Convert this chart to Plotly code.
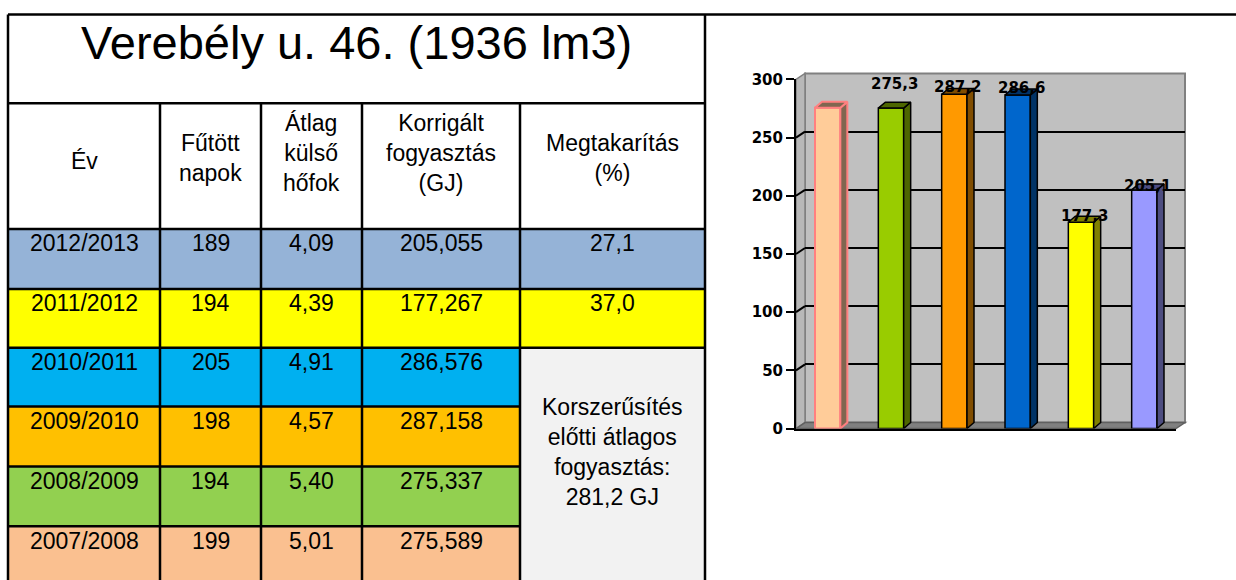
import plotly.graph_objects as go

W = 1236

# ---------------- data ----------------
title_text = "Verebély u. 46. (1936 lm3)"
header_labels = ["Év", "Fűtött<br>napok", "Átlag<br>külső<br>hőfok",
                 "Korrigált<br>fogyasztás<br>(GJ)", "Megtakarítás<br>(%)"]
years = ["2012/2013", "2011/2012", "2010/2011", "2009/2010", "2008/2009", "2007/2008"]
heated_days = [189, 194, 205, 198, 194, 199]
avg_temps = [4.09, 4.39, 4.91, 4.57, 5.40, 5.01]
corrected_gj = [205.055, 177.267, 286.576, 287.158, 275.337, 275.589]
savings_pct = [27.1, 37.0]
baseline_note = ["Korszerűsítés", "előtti átlagos", "fogyasztás:", "281,2 GJ"]

chart_seasons = ["2007/2008", "2008/2009", "2009/2010", "2010/2011", "2011/2012", "2012/2013"]
chart_values = [275.589, 275.337, 287.158, 286.576, 177.267, 205.055]
chart_label_shown = [False, True, True, True, True, True]
y_tick_values = [0, 50, 100, 150, 200, 250, 300]

# ---------------- styles / geometry ----------------
FONT = "Liberation Sans, Arial, sans-serif"
BFONT = "DejaVu Sans, sans-serif"
row_fill = ["#95B3D7", "#FFFF00", "#00B0F0", "#FFC000", "#92D050", "#FAC090"]
note_fill = "#F2F2F2"
bar_front = ["#FFCC99", "#99CC00", "#FF9900", "#0066CC", "#FFFF00", "#9999FF"]
bar_dark = ["#806650", "#4D6600", "#804D00", "#003366", "#808000", "#4D4D80"]
bar_edge = ["#FF8080", "black", "black", "black", "black", "black"]
bar_edge_w = [2, 1.5, 1.5, 1.5, 1.5, 1.5]
label_lift = [0, 24, 7, 7, 6, 4]

# layout positions in target-picture pixels
col_x = [8, 160, 261, 362, 520, 705]
y_top, y_head = 13, 102
row_y = [228, 288, 347, 406, 466, 526, 580]
ax_l, ax_r, ax_b, ax_t = 796, 1176, 428, 78
y_max = 300
wall_dx, wall_dy = 9, 6
bar_dx_px, bar_dy_px = 7, 6
bar_w = 0.4
n = len(chart_values)

# page -> picture mapping observed for the capture (vertical only)
CAP_OFF, CAP_SCALE = 7.4, 0.972
HF = 590                       # figure height in page pixels
Y_AT_TOP = CAP_OFF
Y_AT_BOTTOM = CAP_OFF + CAP_SCALE * HF


def dom_y(y_pic):
    return (Y_AT_BOTTOM - y_pic) / (Y_AT_BOTTOM - Y_AT_TOP)


def py(v):
    return ax_b - v * (ax_b - ax_t) / y_max


px_per_cat = (ax_r - ax_l) / n
px_per_val = (ax_b - ax_t) / y_max
bdx = bar_dx_px / px_per_cat
bdy = bar_dy_px / px_per_val

fig = go.Figure()

fig.add_trace(go.Scatter(x=[0], y=[0], mode="markers", marker=dict(opacity=0),
                         hoverinfo="skip", showlegend=False, xaxis="x", yaxis="y"))
fig.add_trace(go.Scatter(x=[0], y=[0], mode="markers", marker=dict(opacity=0),
                         hoverinfo="skip", showlegend=False, xaxis="x2", yaxis="y2"))

xs = list(range(n))
fig.add_trace(go.Bar(x=xs, y=chart_values, width=bar_w, xaxis="x3", yaxis="y3",
                     marker=dict(color=bar_front, line=dict(color=bar_edge, width=bar_edge_w)),
                     hoverinfo="skip", showlegend=False))
for i, v in enumerate(chart_values):
    xr = i + bar_w / 2
    xl = i - bar_w / 2
    fig.add_trace(go.Scatter(x=[xr, xr + bdx, xr + bdx, xr, xr], y=[0, bdy, v + bdy, v, 0],
                             mode="lines", fill="toself", fillcolor=bar_dark[i],
                             line=dict(color=bar_edge[i], width=bar_edge_w[i]),
                             xaxis="x3", yaxis="y3", hoverinfo="skip", showlegend=False))
    fig.add_trace(go.Scatter(x=[xl, xr, xr + bdx, xl + bdx, xl], y=[v, v, v + bdy, v + bdy, v],
                             mode="lines", fill="toself", fillcolor=bar_dark[i],
                             line=dict(color=bar_edge[i], width=bar_edge_w[i]),
                             xaxis="x3", yaxis="y3", hoverinfo="skip", showlegend=False))

shapes = []
ann = []

for r in range(6):
    for c in range(5):
        if c == 4 and r >= 2:
            continue
        shapes.append(dict(type="rect", xref="x", yref="y", layer="below",
                           x0=col_x[c], x1=col_x[c + 1], y0=row_y[r],
                           y1=Y_AT_BOTTOM if r == 5 else row_y[r + 1],
                           line=dict(width=0), fillcolor=row_fill[r]))
shapes.append(dict(type="rect", xref="x", yref="y", layer="below",
                   x0=col_x[4], x1=col_x[5], y0=row_y[2], y1=Y_AT_BOTTOM,
                   line=dict(width=0), fillcolor=note_fill))


def hline(x0, x1, y, w=2.5):
    shapes.append(dict(type="line", xref="x", yref="y", layer="above",
                       x0=x0, x1=x1, y0=y, y1=y, line=dict(color="black", width=w)))


def vline(x, y0, y1, w=2.5):
    shapes.append(dict(type="line", xref="x", yref="y", layer="above",
                       x0=x, x1=x, y0=y0, y1=y1, line=dict(color="black", width=w)))


hline(col_x[0], W, y_top)
vline(col_x[0], y_top, Y_AT_BOTTOM)
vline(col_x[5], y_top, Y_AT_BOTTOM)
hline(col_x[0], col_x[5], y_head)
for k, yy in enumerate(row_y[:6]):
    hline(col_x[0], col_x[5] if k <= 2 else col_x[4], yy)
for c in range(1, 5):
    vline(col_x[c], y_head, Y_AT_BOTTOM)

ann.append(dict(x=(col_x[0] + col_x[5]) / 2, y=41, xref="x", yref="y", text=title_text,
                showarrow=False, font=dict(family=FONT, size=47, color="black")))
head_y = [160, 157, 152, 152, 157]
for c, lab in enumerate(header_labels):
    ann.append(dict(x=(col_x[c] + col_x[c + 1]) / 2, y=head_y[c], xref="x", yref="y",
                    text=lab, showarrow=False, font=dict(family=FONT, size=23, color="black")))
for r in range(6):
    vals = [years[r], str(heated_days[r]), f"{avg_temps[r]:.2f}".replace(".", ","),
            f"{corrected_gj[r]:.3f}".replace(".", ",")]
    if r < len(savings_pct):
        vals.append(f"{savings_pct[r]:.1f}".replace(".", ","))
    for c, t in enumerate(vals):
        ann.append(dict(x=(col_x[c] + col_x[c + 1]) / 2, y=row_y[r] + 14.5, xref="x", yref="y",
                        text=t, showarrow=False, font=dict(family=FONT, size=23, color="black")))
ann.append(dict(x=(col_x[4] + col_x[5]) / 2, y=452, xref="x", yref="y",
                text="<br>".join(baseline_note), showarrow=False,
                font=dict(family=FONT, size=23, color="black")))

shapes.append(dict(type="rect", xref="x2 domain", yref="y2 domain", layer="below",
                   x0=0, x1=1, y0=0, y1=1, fillcolor="#C0C0C0",
                   line=dict(color="#808080", width=2)))
shapes.append(dict(type="path", xref="x", yref="y", layer="below",
                   path=f"M{ax_l},{ax_b} L{ax_l},{ax_t} L{ax_l + wall_dx},{ax_t - wall_dy} "
                        f"L{ax_l + wall_dx},{ax_b - wall_dy} Z",
                   fillcolor="#B8B8B8", line=dict(color="#808080", width=1.5)))
shapes.append(dict(type="path", xref="x", yref="y", layer="below",
                   path=f"M{ax_l},{ax_b} L{ax_l + wall_dx},{ax_b - wall_dy} "
                        f"L{ax_r + wall_dx},{ax_b - wall_dy} L{ax_r},{ax_b} Z",
                   fillcolor="#808080", line=dict(color="#606060", width=1.5)))
for v in y_tick_values[1:-1]:
    shapes.append(dict(type="line", xref="x", yref="y", layer="below",
                       x0=ax_l, y0=py(v), x1=ax_l + wall_dx, y1=py(v) - wall_dy,
                       line=dict(color="black", width=2)))

for i, v in enumerate(chart_values):
    if chart_label_shown[i]:
        ann.append(dict(x=i, y=v, xref="x3", yref="y3", xshift=bar_dx_px / 2,
                        yshift=label_lift[i], yanchor="middle",
                        text=f"{v:.1f}".replace(".", ","), showarrow=False,
                        font=dict(family=BFONT, size=15, color="black", weight="bold")))

fig.update_layout(
    width=W, height=HF, margin=dict(l=0, r=0, t=0, b=0),
    paper_bgcolor="white", plot_bgcolor="rgba(0,0,0,0)", showlegend=False, hovermode=False,
    xaxis=dict(domain=[0, 1], range=[0, W], visible=False, fixedrange=True),
    yaxis=dict(domain=[0, 1], range=[Y_AT_BOTTOM, Y_AT_TOP], visible=False, fixedrange=True),
    xaxis2=dict(domain=[(ax_l + wall_dx) / W, (ax_r + wall_dx) / W], range=[-0.5, n - 0.5],
                anchor="y2", visible=False, fixedrange=True),
    yaxis2=dict(domain=[dom_y(ax_b - wall_dy), dom_y(ax_t - wall_dy)], range=[0, y_max],
                anchor="x2", tickvals=y_tick_values[1:-1], showgrid=True, gridcolor="black",
                gridwidth=2, showticklabels=False, ticks="", showline=False, zeroline=False,
                fixedrange=True),
    xaxis3=dict(domain=[ax_l / W, ax_r / W], range=[-0.5, n - 0.5], anchor="y3",
                showgrid=False, zeroline=False, showticklabels=False, ticks="",
                showline=True, linecolor="black", linewidth=2, fixedrange=True),
    yaxis3=dict(domain=[dom_y(ax_b), dom_y(ax_t)], range=[0, y_max], anchor="x3",
                tickvals=y_tick_values, showgrid=False, zeroline=False,
                ticks="outside", ticklen=8, tickwidth=2, tickcolor="black",
                showline=True, linecolor="black", linewidth=2,
                tickfont=dict(family=BFONT, size=15, color="black", weight="bold"),
                fixedrange=True),
    shapes=shapes, annotations=ann,
)

fig.write_html("out.html", post_script="document.body.style.margin='0';",
               config={"displayModeBar": False})
